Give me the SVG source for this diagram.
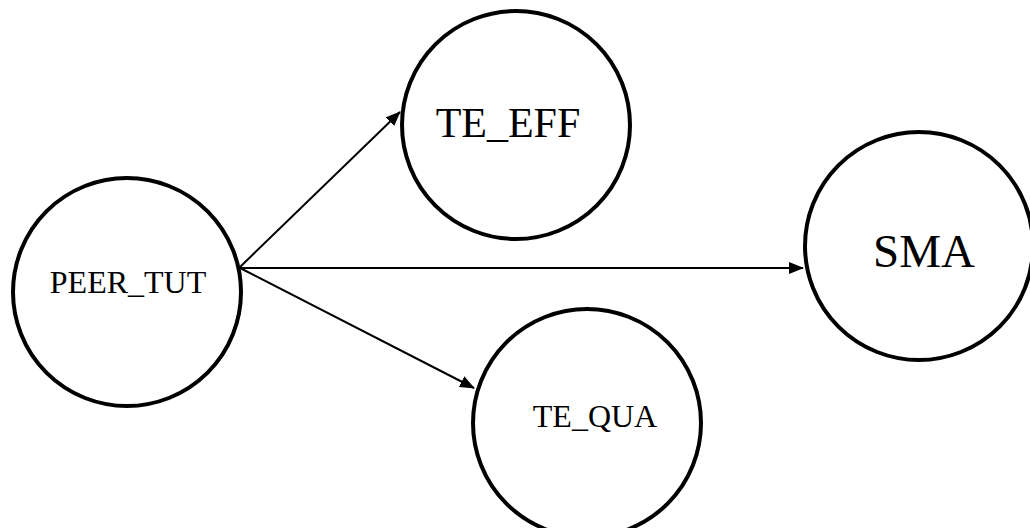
<svg xmlns="http://www.w3.org/2000/svg" width="1030" height="528" viewBox="0 0 1030 528">
  <style>
    .node circle { fill: #ffffff; stroke: #000000; stroke-width: 4; }
    .node text { font-family: "Liberation Serif", "Times New Roman", serif; fill: #000000; text-anchor: middle; }
    .edge { stroke: #000000; stroke-width: 2; fill: none; marker-end: url(#arrow); }
  </style>
  <defs>
    <marker id="arrow" markerUnits="userSpaceOnUse" markerWidth="15" markerHeight="12" refX="14" refY="6" orient="auto">
      <path d="M0,0 L15,6 L0,12 z" fill="#000000"/>
    </marker>
  </defs>
  <rect width="1030" height="528" fill="#ffffff"/>

  <g id="connectors">
    <line class="edge" x1="240" y1="267" x2="400" y2="112"/>
    <line class="edge" x1="240" y1="268" x2="803" y2="268"/>
    <line class="edge" x1="240" y1="268" x2="474" y2="388"/>
  </g>

  <g id="node-peer-tut" class="node">
    <circle cx="127" cy="292" r="114"/>
    <text x="128" y="293" font-size="32">PEER_TUT</text>
  </g>

  <g id="node-te-eff" class="node">
    <circle cx="516" cy="125" r="114"/>
    <text x="508" y="137" font-size="42">TE_EFF</text>
  </g>

  <g id="node-sma" class="node">
    <circle cx="919" cy="246" r="114"/>
    <text x="924" y="267" font-size="47">SMA</text>
  </g>

  <g id="node-te-qua" class="node">
    <circle cx="587" cy="423" r="114"/>
    <text x="595" y="427" font-size="32">TE_QUA</text>
  </g>
</svg>
